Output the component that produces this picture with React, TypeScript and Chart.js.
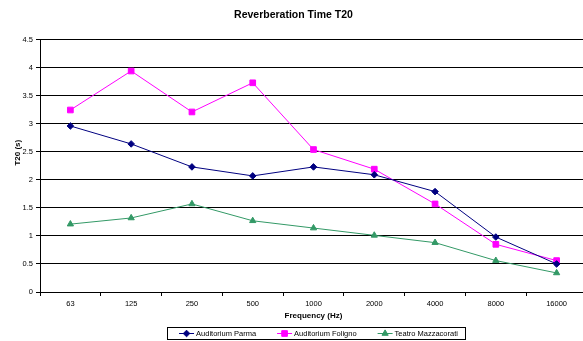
import { useEffect, useRef } from "react";
import { Chart, registerables } from "chart.js";
import { drawPoint } from "chart.js/helpers";

Chart.register(...registerables);

const titleText = "Reverberation Time T20";
const xTitle = "Frequency (Hz)";
const yTitle = "T20 (s)";
const categories = ["63", "125", "250", "500", "1000", "2000", "4000", "8000", "16000"];
const seriesNames = ["Auditorium Parma", "Auditorium Foligno", "Teatro Mazzacorati"];
const parma = [2.96, 2.64, 2.23, 2.07, 2.23, 2.09, 1.79, 0.98, 0.5];
const foligno = [3.245, 3.94, 3.21, 3.73, 2.54, 2.19, 1.57, 0.85, 0.56];
const mazzacorati = [1.21, 1.32, 1.57, 1.27, 1.14, 1.01, 0.88, 0.56, 0.34];
const yMin = 0;
const yMax = 4.5;
const yStep = 0.5;

const FONT = '"Liberation Sans", Arial, sans-serif';

const yTitlePlugin = {
  id: "yTitleCustom",
  afterDraw(chart: any) {
    const { ctx, chartArea } = chart;
    ctx.save();
    ctx.font = `bold 8px ${FONT}`;
    ctx.fillStyle = "#000";
    ctx.textAlign = "center";
    ctx.textBaseline = "middle";
    ctx.translate(18, chartArea.top + (chartArea.bottom - chartArea.top) * 0.448);
    ctx.rotate(-Math.PI / 2);
    ctx.fillText(yTitle, 0, 0);
    ctx.restore();
  },
};

const boxLegendPlugin = {
  id: "boxLegend",
  afterDraw(chart: any) {
    const { ctx, chartArea } = chart;
    ctx.save();
    ctx.font = `7.5px ${FONT}`;
    const lineLen = 15;
    const gap = 2;
    const spacing = 21;
    const padL = 12;
    const padR = 7;
    const items = chart.data.datasets.map((ds: any) => ({
      label: ds.label,
      color: ds.borderColor,
      style: ds.pointStyle,
      r: ds.pointRadius,
      w: ctx.measureText(ds.label).width,
    }));
    const total =
      items.reduce((s: number, it: any) => s + lineLen + gap + it.w, 0) +
      spacing * (items.length - 1);
    const cx = (chartArea.left + chartArea.right) / 2 + 5;
    const startX = cx - total / 2;
    const cy = 333;
    const boxLeft = Math.round(startX - padL) + 0.5;
    const boxRight = Math.round(startX + total + padR) + 0.5;
    ctx.strokeStyle = "#000";
    ctx.lineWidth = 1;
    ctx.strokeRect(boxLeft, 327.5, boxRight - boxLeft, 12);
    let x = startX;
    ctx.textBaseline = "middle";
    ctx.textAlign = "left";
    for (const it of items) {
      ctx.strokeStyle = it.color;
      ctx.lineWidth = 1;
      ctx.beginPath();
      ctx.moveTo(x, cy + 0.5);
      ctx.lineTo(x + lineLen, cy + 0.5);
      ctx.stroke();
      ctx.fillStyle = it.color;
      drawPoint(ctx, { pointStyle: it.style, radius: it.r, rotation: 0, borderWidth: 1 } as any, x + lineLen / 2, cy + 0.5);
      ctx.fillStyle = "#000";
      ctx.fillText(it.label, x + lineLen + gap, cy + 0.5);
      x += lineLen + gap + it.w + spacing;
    }
    ctx.restore();
  },
};

export default function App() {
  const ref = useRef<HTMLCanvasElement>(null);

  useEffect(() => {
    document.body.style.margin = "0";
    document.body.style.overflow = "hidden";
    document.body.style.background = "#fff";
    if (!ref.current) return;
    const mk = (label: string, data: number[], color: string, style: string, r: number) => ({
      label,
      data,
      borderColor: color,
      backgroundColor: color,
      pointBackgroundColor: color,
      pointBorderColor: color,
      pointStyle: style,
      pointRadius: r,
      pointBorderWidth: 1,
      borderWidth: 1,
      tension: 0,
      fill: false,
    });
    const chart = new Chart(ref.current, {
      type: "line",
      data: {
        labels: categories,
        datasets: [
          mk(seriesNames[0], parma, "#000080", "rectRot", 3.3),
          mk(seriesNames[1], foligno, "#FF00FF", "rect", 4),
          mk(seriesNames[2], mazzacorati, "#339966", "triangle", 3.6),
        ] as any,
      },
      options: {
        responsive: false,
        animation: false,
        layout: { padding: { left: 0, right: 7, top: 0, bottom: 20 } },
        plugins: {
          legend: { display: false },
          tooltip: { enabled: false },
          title: {
            display: true,
            text: titleText,
            color: "#000",
            font: { family: FONT, size: 10.5, weight: "bold" },
            padding: { top: 9, bottom: 18 },
          },
        },
        scales: {
          x: {
            type: "category",
            offset: true,
            grid: {
              display: true,
              drawOnChartArea: false,
              drawTicks: true,
              tickLength: 4,
              color: "#000",
              offset: true,
            },
            border: { display: true, color: "#000", width: 1 },
            ticks: {
              color: "#000",
              font: { family: FONT, size: 7.5 },
              maxRotation: 0,
              autoSkip: false,
              padding: 3,
            },
            title: {
              display: true,
              text: xTitle,
              color: "#000",
              font: { family: FONT, size: 8, weight: "bold" },
              padding: 0,
            },
            afterFit: (s: any) => {
              s.height = 29;
            },
          },
          y: {
            min: yMin,
            max: yMax,
            grid: {
              color: "#000",
              lineWidth: 1,
              drawTicks: true,
              tickLength: 4,
            },
            border: { display: true, color: "#000", width: 1 },
            ticks: {
              stepSize: yStep,
              color: "#000",
              font: { family: FONT, size: 7.5 },
              padding: 3,
              callback: (v: any) => String(Number(v)),
            },
            afterFit: (s: any) => {
              s.width = 40;
            },
          },
        },
      },
      plugins: [yTitlePlugin, boxLegendPlugin],
    });
    return () => chart.destroy();
  }, []);

  return (
    <div style={{ width: 583, height: 341, overflow: "hidden", position: "relative", background: "#fff" }}>
      <canvas ref={ref} width={594} height={341} style={{ display: "block", width: 594, height: 341 }} />
    </div>
  );
}
